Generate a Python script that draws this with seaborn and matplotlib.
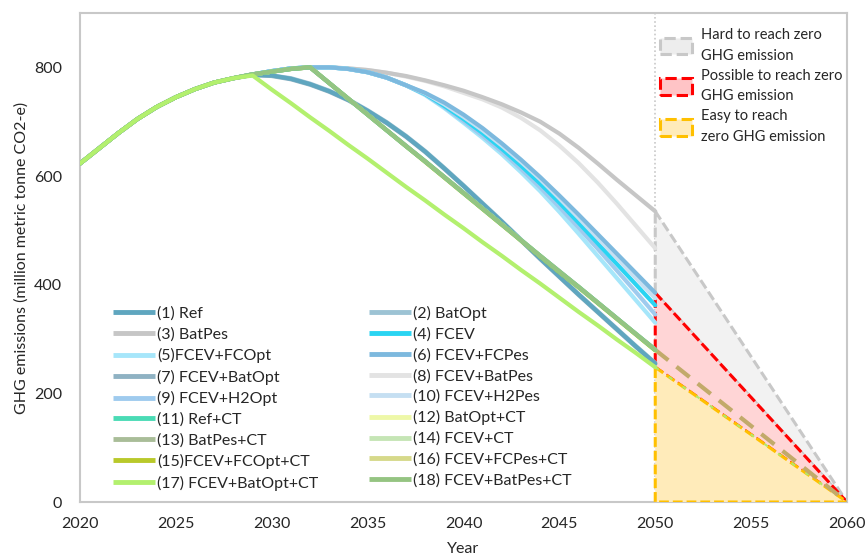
import numpy as np
import pandas as pd
import matplotlib
matplotlib.use("Agg")
import matplotlib.pyplot as plt
from matplotlib.lines import Line2D
from matplotlib.patches import Patch, Polygon
import seaborn as sns

# ---------------------------------------------------------------- data
years = list(range(2020, 2051))

# shared history 2020-2028 (million tonne CO2-e)
trunk = [623, 651, 679, 705, 727, 745, 760, 772, 780]

# scenario trajectories 2029-2050
ref_tail          = [786, 785, 779, 769, 756, 740, 720, 698, 673, 645, 614, 582, 549, 516, 482, 448, 415, 382, 350, 318, 286, 255]
batopt_tail       = [786, 785, 780, 770, 757, 741, 721, 699, 674, 646, 615, 583, 550, 517, 483, 449, 416, 383, 351, 319, 287, 256]
batpes_tail       = [787, 793, 798, 800, 800, 798, 795, 790, 784, 776, 767, 757, 745, 732, 717, 700, 678, 652, 623, 593, 564, 535]
fcev_tail         = [787, 793, 798, 800, 800, 797, 791, 781, 767, 751, 729, 705, 679, 650, 619, 586, 551, 514, 476, 438, 400, 362]
fcev_fcopt_tail   = [787, 793, 798, 800, 800, 797, 791, 781, 767, 749, 725, 698, 670, 640, 607, 572, 534, 494, 453, 412, 371, 330]
fcev_fcpes_tail   = [787, 793, 798, 800, 800, 797, 791, 781, 767, 753, 735, 713, 688, 660, 630, 598, 564, 529, 493, 457, 421, 385]
fcev_batopt_tail  = [786, 784, 778, 768, 755, 739, 719, 697, 672, 644, 613, 581, 548, 515, 481, 447, 414, 381, 349, 317, 285, 254]
fcev_batpes_tail  = [787, 793, 798, 800, 800, 798, 795, 790, 783, 775, 765, 753, 741, 726, 707, 684, 656, 624, 588, 549, 508, 467]
fcev_h2opt_tail   = [787, 793, 798, 800, 800, 797, 791, 781, 767, 750, 727, 701, 674, 645, 613, 579, 543, 505, 466, 426, 386, 345]
fcev_h2pes_tail   = [787, 793, 798, 800, 800, 797, 791, 781, 767, 752, 732, 709, 684, 656, 626, 594, 559, 523, 486, 449, 412, 375]
ref_ct_tail       = [787, 792, 797, 800, 771, 742, 713, 684, 655, 627, 598, 569, 540, 511, 482, 453, 424, 396, 367, 338, 309, 280]
batopt_ct_tail    = [787, 792, 797, 800, 771, 742, 713, 684, 655, 627, 598, 569, 540, 511, 482, 453, 424, 395, 366, 337, 308, 279]
batpes_ct_tail    = [787, 792, 797, 800, 771, 742, 713, 684, 656, 627, 598, 569, 540, 511, 482, 453, 425, 396, 367, 338, 309, 281]
fcev_ct_tail      = [787, 792, 797, 800, 771, 742, 713, 684, 655, 627, 598, 569, 540, 511, 482, 453, 424, 396, 367, 338, 309, 280]
fcev_fcopt_ct_tail = [787, 792, 797, 800, 771, 742, 713, 684, 655, 626, 597, 568, 539, 510, 481, 452, 423, 395, 366, 337, 308, 279]
fcev_fcpes_ct_tail = [787, 792, 797, 800, 771, 742, 713, 684, 655, 627, 598, 569, 540, 511, 482, 453, 424, 396, 367, 338, 309, 280]
fcev_batopt_ct_tail = [785, 759, 734, 708, 683, 657, 632, 606, 580, 555, 529, 504, 478, 453, 427, 402, 376, 350, 325, 299, 274, 248]
fcev_batpes_ct_tail = [787, 792, 797, 800, 771, 742, 713, 684, 655, 627, 598, 569, 540, 511, 482, 453, 424, 396, 367, 338, 309, 280]

scenarios = [
    ("(1) Ref", ref_tail),
    ("(2) BatOpt", batopt_tail),
    ("(3) BatPes", batpes_tail),
    ("(4) FCEV", fcev_tail),
    ("(5)FCEV+FCOpt", fcev_fcopt_tail),
    ("(6) FCEV+FCPes", fcev_fcpes_tail),
    ("(7) FCEV+BatOpt", fcev_batopt_tail),
    ("(8) FCEV+BatPes", fcev_batpes_tail),
    ("(9) FCEV+H2Opt", fcev_h2opt_tail),
    ("(10) FCEV+H2Pes", fcev_h2pes_tail),
    ("(11) Ref+CT", ref_ct_tail),
    ("(12) BatOpt+CT", batopt_ct_tail),
    ("(13) BatPes+CT", batpes_ct_tail),
    ("(14) FCEV+CT", fcev_ct_tail),
    ("(15)FCEV+FCOpt+CT", fcev_fcopt_ct_tail),
    ("(16) FCEV+FCPes+CT", fcev_fcpes_ct_tail),
    ("(17) FCEV+BatOpt+CT", fcev_batopt_ct_tail),
    ("(18) FCEV+BatPes+CT", fcev_batpes_ct_tail),
]

palette = {
    "(1) Ref": "#5FA6BF",
    "(2) BatOpt": "#9DC3D4",
    "(3) BatPes": "#C6C6C6",
    "(4) FCEV": "#2AD4F2",
    "(5)FCEV+FCOpt": "#A6E6FA",
    "(6) FCEV+FCPes": "#7DB9DE",
    "(7) FCEV+BatOpt": "#8FB2C3",
    "(8) FCEV+BatPes": "#E3E3E3",
    "(9) FCEV+H2Opt": "#9FCBEE",
    "(10) FCEV+H2Pes": "#C5DFF2",
    "(11) Ref+CT": "#4ADBB5",
    "(12) BatOpt+CT": "#EEF8A8",
    "(13) BatPes+CT": "#A9BD98",
    "(14) FCEV+CT": "#C5E5B5",
    "(15)FCEV+FCOpt+CT": "#B9C92A",
    "(16) FCEV+FCPes+CT": "#D6D98A",
    "(17) FCEV+BatOpt+CT": "#B3F06E",
    "(18) FCEV+BatPes+CT": "#95C482",
}

# drawing order (later = on top)
draw_order = [
    "(8) FCEV+BatPes", "(3) BatPes",
    "(5)FCEV+FCOpt", "(9) FCEV+H2Opt", "(4) FCEV", "(10) FCEV+H2Pes", "(6) FCEV+FCPes",
    "(2) BatOpt", "(7) FCEV+BatOpt", "(1) Ref",
    "(12) BatOpt+CT", "(16) FCEV+FCPes+CT", "(14) FCEV+CT", "(15)FCEV+FCOpt+CT",
    "(13) BatPes+CT", "(11) Ref+CT", "(18) FCEV+BatPes+CT",
    "(17) FCEV+BatOpt+CT",
]

# 2050-2060 outlook zones
proj_years = [2050, 2060]
ct_proj = [280, 0]
batopt_ct_proj = [248, 0]
hard_x, hard_y = [2050, 2060, 2050], [535, 0, 385]
possible_x, possible_y = [2050, 2060, 2050], [385, 0, 248]
easy_x, easy_y = [2050, 2060, 2050], [248, 0, 0]

zone_labels = ["Hard to reach zero\nGHG emission",
               "Possible to reach zero\nGHG emission",
               "Easy to reach\nzero GHG emission"]

# ---------------------------------------------------------------- frame
rows = []
for name, tail in scenarios:
    for yr, v in zip(years, trunk + tail):
        rows.append({"Year": yr, "Emission": v, "Scenario": name})
df = pd.DataFrame(rows)

sns.set_theme(style="white")
plt.rcParams["font.family"] = ["Lato", "DejaVu Sans"]

fig, ax = plt.subplots(figsize=(8.67, 5.57), dpi=100)
fig.subplots_adjust(left=80 / 867, right=847 / 867, bottom=1 - 502 / 557, top=1 - 13 / 557)

# zones behind the trajectories
ax.axvline(2050, color="#C8C8C8", ls=(0, (1, 1.5)), lw=1.2, zorder=0)
dash = (0, (3.2, 1.3))
ax.add_patch(Polygon(np.column_stack([hard_x, hard_y]), closed=True, facecolor="#F2F2F2",
                     edgecolor="#C8C8C8", ls=dash, lw=2.2, zorder=1))
ax.add_patch(Polygon(np.column_stack([possible_x, possible_y]), closed=True, facecolor="#FFD5D6",
                     edgecolor="#FF0000", ls=dash, lw=2.2, zorder=2))
ax.add_patch(Polygon(np.column_stack([easy_x, easy_y]), closed=True, facecolor="#FFEBBA",
                     edgecolor="#FFC000", ls=dash, lw=2.2, zorder=3))
ax.plot(proj_years, batopt_ct_proj, color="#B3E86A", lw=1.5, ls=(0, (2, 6)), zorder=3.5)
ax.plot(proj_years, ct_proj, color="#C2AA6A", lw=3, ls=(0, (4, 2.5)), zorder=4)

sns.lineplot(data=df, x="Year", y="Emission", hue="Scenario", hue_order=draw_order,
             palette=palette, linewidth=3, legend=False, ax=ax, zorder=5)

ax.set_xlim(2020, 2060)
ax.set_ylim(0, 900)
ax.set_xticks(range(2020, 2061, 5))
ax.set_yticks(range(0, 801, 200))
ax.tick_params(axis="both", length=0, labelsize=11.5, labelcolor="#262626")
ax.tick_params(axis="x", pad=11)
ax.tick_params(axis="y", pad=13)
ax.set_xlabel("Year", fontsize=11.5, color="#262626", labelpad=8)
ax.set_ylabel("GHG emissions (million metric tonne CO2-e)", fontsize=11.5, color="#262626", labelpad=4)
for s in ax.spines.values():
    s.set_color("#C8C8C8")
    s.set_linewidth(1.5)

# scenario legend: odd numbers in the left column, even numbers in the right one
names = [n for n, _ in scenarios]
legend_names = names[0::2] + names[1::2]
handles = [Line2D([], [], color=palette[n], lw=3.5, solid_capstyle="butt") for n in legend_names]
leg1 = ax.legend(handles, legend_names, ncol=2, loc="upper left",
                 bbox_to_anchor=(113 / 867, 1 - 306 / 557), bbox_transform=fig.transFigure,
                 frameon=False, fontsize=11.5, handlelength=2.6, handletextpad=0.15,
                 columnspacing=3.2, labelspacing=0.40, borderpad=0, borderaxespad=0)
for t in leg1.get_texts():
    t.set_color("#262626")
ax.add_artist(leg1)

zone_handles = [
    Patch(facecolor="#EDEDED", edgecolor="#C8C8C8", linestyle="--", linewidth=2.2),
    Patch(facecolor="#FFC4C6", edgecolor="#FF0000", linestyle="--", linewidth=2.2),
    Patch(facecolor="#FFEBBA", edgecolor="#FFC000", linestyle="--", linewidth=2.2),
]
leg2 = ax.legend(zone_handles, zone_labels, loc="upper left",
                 bbox_to_anchor=(660 / 867, 1 - 28 / 557), bbox_transform=fig.transFigure,
                 frameon=False, fontsize=10.5, handlelength=2.2, handleheight=1.4,
                 handletextpad=0.6, labelspacing=0.42, borderpad=0, borderaxespad=0)
for t in leg2.get_texts():
    t.set_color("#262626")
    t.set_linespacing(1.6)

fig.savefig("out.png", dpi=100)
